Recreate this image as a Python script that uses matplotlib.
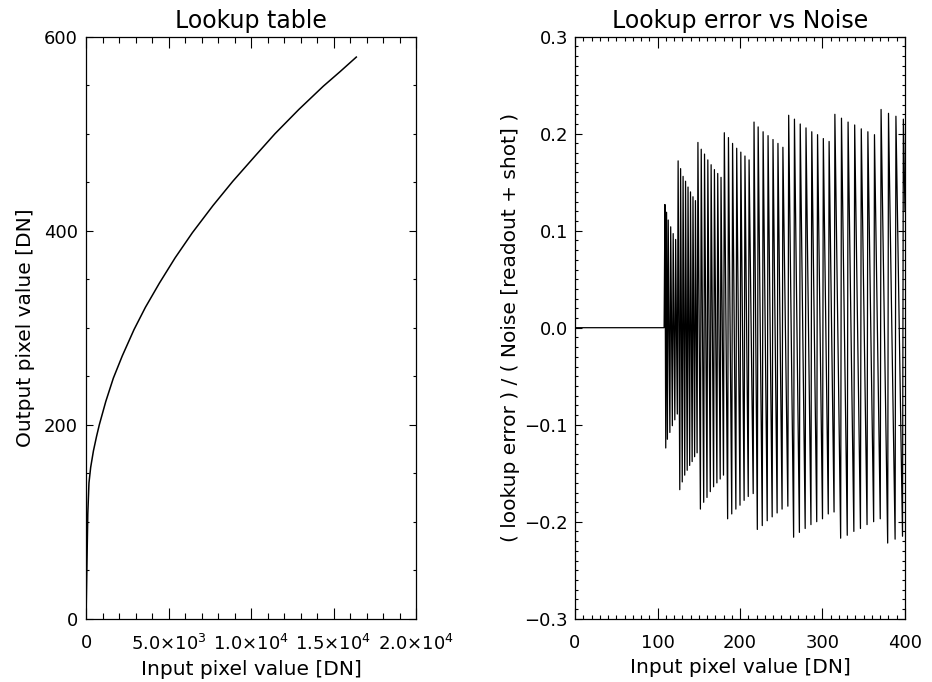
import matplotlib
matplotlib.use("Agg")
import matplotlib.pyplot as plt
from matplotlib.ticker import MultipleLocator

plt.rcParams['font.family'] = ['DejaVu Sans']
plt.rcParams['mathtext.default'] = 'regular'

# ── lookup table ───────────────────────────────────────
lut_in = [0, 108, 180, 283, 450, 640, 808, 1200, 1657, 2200, 2909, 3600,
          4450, 5400, 6450, 7700, 8900, 10300, 11455, 12900, 14384, 15400,
          16383]
lut_out = [0, 108, 140, 156, 173, 188, 200, 224, 248, 271, 298, 321,
           346, 372, 398, 426, 451, 478, 500, 525, 549, 564,
           579]

# ── lookup error / noise (right panel) ─────────────────
# each output step: first input DN, error at step start, error at step end
step_x = [109, 111, 113, 116, 119, 122, 125, 128, 131, 134, 137, 140, 143,
          146, 149, 153, 157, 161, 165, 169, 173, 177, 181, 186, 191, 196,
          201, 206, 211, 217, 222, 228, 234, 240, 246, 252, 259, 266, 273,
          280, 287, 294, 301, 308, 315, 323, 331, 339, 347, 355, 363, 371,
          380, 389, 398]
step_top = [0.127, 0.119, 0.111, 0.104, 0.097, 0.091, 0.172, 0.164, 0.156,
            0.151, 0.145, 0.140, 0.135, 0.131, 0.191, 0.184, 0.179, 0.173,
            0.168, 0.163, 0.159, 0.155, 0.201, 0.196, 0.190, 0.185, 0.181,
            0.177, 0.173, 0.212, 0.207, 0.202, 0.198, 0.194, 0.190, 0.186,
            0.219, 0.215, 0.210, 0.206, 0.202, 0.199, 0.195, 0.192, 0.220,
            0.216, 0.212, 0.209, 0.205, 0.202, 0.199, 0.225, 0.221, 0.218,
            0.215]
step_end = [-0.124, -0.115, -0.108, -0.101, -0.095, -0.089, -0.167, -0.159,
            -0.152, -0.147, -0.142, -0.138, -0.133, -0.129, -0.187, -0.180,
            -0.175, -0.169, -0.164, -0.160, -0.156, -0.152, -0.197, -0.192,
            -0.187, -0.183, -0.178, -0.174, -0.171, -0.208, -0.204, -0.199,
            -0.195, -0.191, -0.187, -0.184, -0.216, -0.211, -0.207, -0.203,
            -0.200, -0.197, -0.192, -0.190, -0.217, -0.214, -0.210, -0.207,
            -0.203, -0.200, -0.197, -0.222, -0.218, -0.215, 0.12]
x_last = 400

ex = [0, step_x[0] - 1]
ey = [0.0, 0.0]
for k in range(len(step_x)):
    nxt = step_x[k + 1] - 1 if k + 1 < len(step_x) else x_last
    ex += [step_x[k], nxt]
    ey += [step_top[k], step_end[k]]

fs_tick = 13
fs_lab = 14.5
fs_title = 17

fig = plt.figure(figsize=(9.32, 6.82), dpi=100)
ax1 = fig.add_axes([86 / 932, 63.3 / 682, 330 / 932, 582 / 682])
ax2 = fig.add_axes([575 / 932, 63.3 / 682, 330 / 932, 582 / 682])

# left panel
ax1.plot(lut_in, lut_out, color='black', lw=1.1)
ax1.set_xlim(0, 20000)
ax1.set_ylim(0, 600)
ax1.set_xticks([0, 5000, 10000, 15000, 20000])
ax1.set_xticklabels(['0', r'5.0$\times$10$^3$', r'1.0$\times$10$^4$',
                     r'1.5$\times$10$^4$', r'2.0$\times$10$^4$'])
ax1.set_yticks([0, 200, 400, 600])
ax1.xaxis.set_minor_locator(MultipleLocator(1000))
ax1.yaxis.set_minor_locator(MultipleLocator(50))
ax1.tick_params(axis='x', which='major', length=8, pad=11)
ax1.tick_params(axis='x', which='minor', length=4.3)
ax1.tick_params(axis='y', which='major', length=4.8, pad=6)
ax1.tick_params(axis='y', which='minor', length=2.4)
ax1.set_title('Lookup table', fontsize=fs_title, pad=6)
ax1.set_xlabel('Input pixel value [DN]', fontsize=fs_lab, labelpad=4)
ax1.set_ylabel('Output pixel value [DN]', fontsize=fs_lab, labelpad=6)

# right panel
ax2.plot(ex, ey, color='black', lw=0.9)
ax2.set_xlim(0, 400)
ax2.set_ylim(-0.3, 0.3)
ax2.set_xticks([0, 100, 200, 300, 400])
ax2.set_yticks([-0.3, -0.2, -0.1, 0.0, 0.1, 0.2, 0.3])
ax2.set_yticklabels(['\u22120.3', '\u22120.2', '\u22120.1', '0.0', '0.1', '0.2', '0.3'])
ax2.xaxis.set_minor_locator(MultipleLocator(10))
ax2.yaxis.set_minor_locator(MultipleLocator(0.01))
ax2.tick_params(axis='x', which='major', length=8, pad=11)
ax2.tick_params(axis='x', which='minor', length=3)
ax2.tick_params(axis='y', which='major', length=4.8, pad=5)
ax2.tick_params(axis='y', which='minor', length=2.4)
ax2.set_title('Lookup error vs Noise', fontsize=fs_title, pad=6)
ax2.set_xlabel('Input pixel value [DN]', fontsize=fs_lab, labelpad=4)
ax2.set_ylabel('( lookup error ) / ( Noise [readout + shot] )', fontsize=fs_lab, labelpad=3)

for ax in (ax1, ax2):
    ax.tick_params(which='both', direction='in', top=True, right=True,
                   width=0.8, labelsize=fs_tick, color='black')
    for s in ax.spines.values():
        s.set_linewidth(0.9)

fig.savefig('out.png', dpi=100)
